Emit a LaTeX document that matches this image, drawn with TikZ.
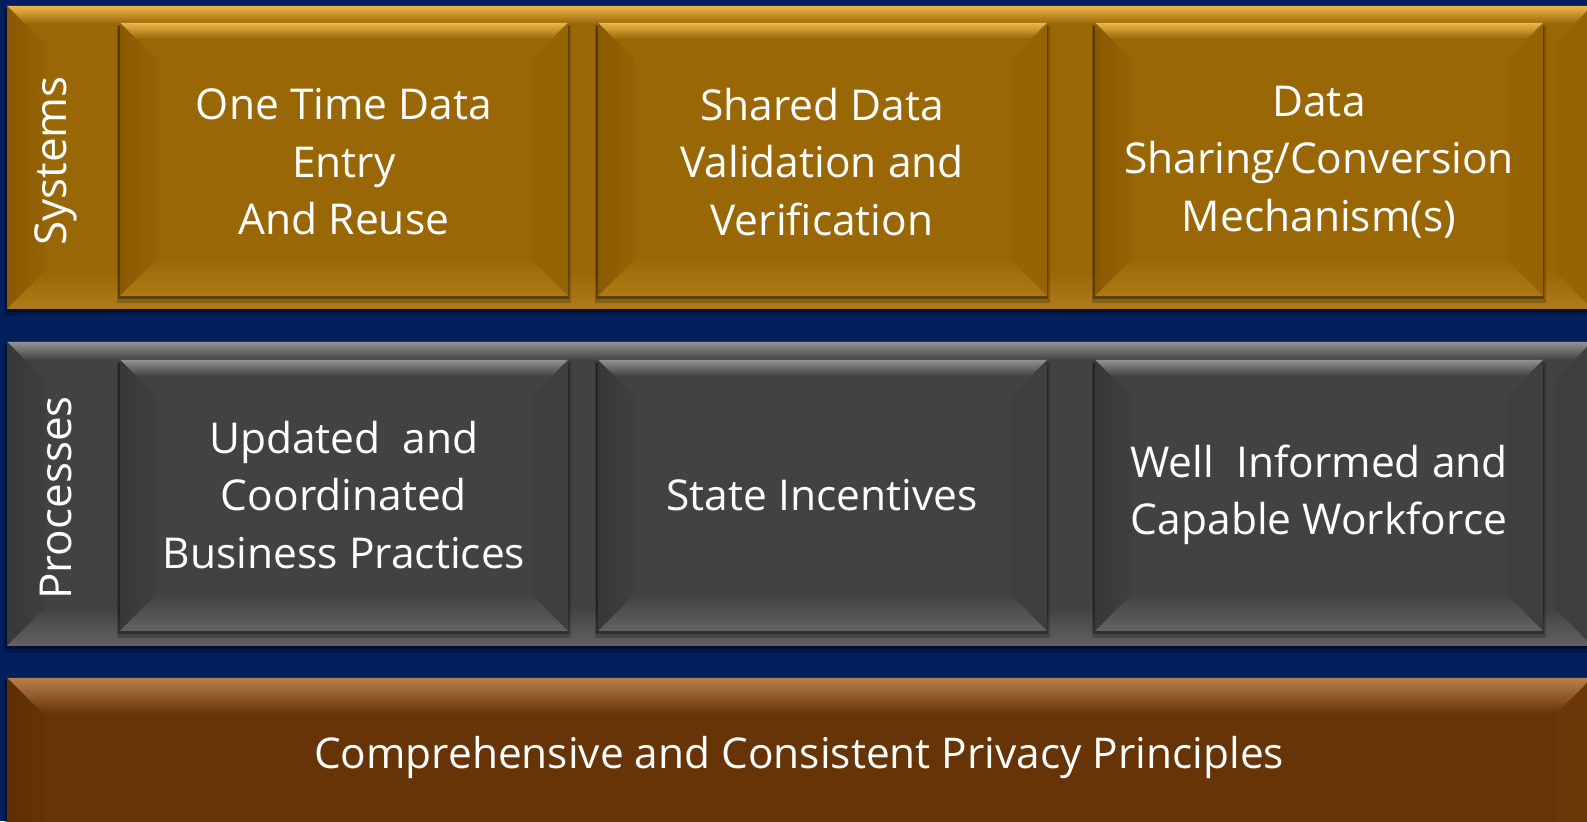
\documentclass[tikz,border=0pt]{standalone}
\usepackage{fontspec}
\setmainfont{Open Sans}
\definecolor{navy}{RGB}{0,31,92}
\definecolor{goldbase}{RGB}{154,103,6}
\definecolor{goldlight}{RGB}{242,184,76}
\definecolor{golddark}{RGB}{138,90,2}
\definecolor{goldside}{RGB}{150,100,5}
\definecolor{goldbot}{RGB}{176,122,24}
\definecolor{graybase}{RGB}{66,66,66}
\definecolor{graylight}{RGB}{150,150,150}
\definecolor{graydark}{RGB}{56,56,56}
\definecolor{grayside}{RGB}{63,63,63}
\definecolor{graybot}{RGB}{98,98,98}
\definecolor{brownbase}{RGB}{102,52,6}
\definecolor{brownlight}{RGB}{188,128,78}
\definecolor{browndark}{RGB}{94,47,4}
\definecolor{brownside}{RGB}{106,55,9}
\definecolor{brownbot}{RGB}{140,88,44}
% #1 x1, #2 y1, #3 x2, #4 y2 (pixels, y downward), #5 bevel, #6 colour prefix, #7 highlight depth
\newcommand\bevbox[7]{%
  \fill[#6base] (#1,{821-#2}) rectangle (#3,{821-#4});
  % top face
  \begin{scope}
    \clip (#1,{821-#2}) -- (#3,{821-#2}) -- ({#3-#5},{821-#2-#5}) -- ({#1+#5},{821-#2-#5}) -- cycle;
    \shade[top color=#6light, bottom color=#6base] ({#1-1},{821-#2+1}) rectangle ({#3+1},{821-#2-#7});
  \end{scope}
  % left face
  \shade[left color=#6dark, right color=#6base!70!#6dark] (#1,{821-#2}) -- ({#1+#5},{821-#2-#5}) -- ({#1+#5},{821-#4+#5}) -- (#1,{821-#4}) -- cycle;
  % right face
  \fill[#6side] (#3,{821-#2}) -- ({#3-#5},{821-#2-#5}) -- ({#3-#5},{821-#4+#5}) -- (#3,{821-#4}) -- cycle;
  % bottom face
  \shade[top color=#6base, bottom color=#6bot] (#1,{821-#4}) -- ({#1+#5},{821-#4+#5}) -- ({#3-#5},{821-#4+#5}) -- (#3,{821-#4}) -- cycle;
}
\newcommand\shadowbox[4]{%
  \fill[black, opacity=0.30] ({#1-2},{821-#2-3}) rectangle ({#3+1},{821-#4-3});
  \fill[black, opacity=0.20] ({#1-3},{821-#2-2}) rectangle ({#3+3},{821-#4-7});
}
\tikzset{
  tiletext/.style={text=white, align=center, font=\fontsize{42.5bp}{57.5bp}\selectfont, inner sep=0pt},
  sidetext/.style={text=white, rotate=90, font=\fontsize{44bp}{50bp}\selectfont, inner sep=0pt},
  basetext/.style={text=white, font=\fontsize{42.4bp}{50bp}\selectfont, inner sep=0pt}
}
\begin{document}
\begin{tikzpicture}[x=1bp, y=1bp]
\useasboundingbox (0,0) rectangle (1587,821);
\fill[navy] (0,0) rectangle (1587,821);
% bands
\shadowbox{7}{6}{1592}{309}
\bevbox{7}{6}{1592}{309}{38}{gold}{18}
\shadowbox{7}{342}{1592}{646}
\bevbox{7}{342}{1592}{646}{38}{gray}{18}
\shadowbox{7}{678}{1592}{870}
\bevbox{7}{678}{1592}{870}{36}{brown}{36}
% tiles row 1
\shadowbox{120}{23}{568}{296}
\bevbox{120}{23}{568}{296}{37}{gold}{16}
\shadowbox{598}{23}{1047}{296}
\bevbox{598}{23}{1047}{296}{37}{gold}{16}
\shadowbox{1095}{23}{1543}{296}
\bevbox{1095}{23}{1543}{296}{37}{gold}{16}
% tiles row 2
\shadowbox{120}{360}{568}{631}
\bevbox{120}{360}{568}{631}{37}{gray}{16}
\shadowbox{598}{360}{1047}{631}
\bevbox{598}{360}{1047}{631}{37}{gray}{16}
\shadowbox{1095}{360}{1543}{631}
\bevbox{1095}{360}{1543}{631}{37}{gray}{16}
% labels
\node[sidetext] (sys) at (56,{821-161}) {Systems};
\node[sidetext] (proc) at (56,{821-498}) {Processes};
\node[tiletext] (t1) at (344,{821-162}) {One Time Data\\Entry\\And Reuse};
\node[tiletext] (t2) at (822,{821-162}) {Shared Data\\Validation and\\Verification};
\node[tiletext] (t3) at (1319,{821-162}) {Data\\Sharing/Conversion\\Mechanism(s)};
\node[tiletext] (p1) at (344,{821-495}) {Updated\ \ and\\Coordinated\\Business Practices};
\node[tiletext] (p2) at (822,{821-495}) {State Incentives};
\node[tiletext] (p3) at (1319,{821-495}) {Well\ \ Informed and\\Capable Workforce};
\node[basetext] (b1) at (799,{821-757}) {Comprehensive and Consistent Privacy Principles};
\end{tikzpicture}
\end{document}
